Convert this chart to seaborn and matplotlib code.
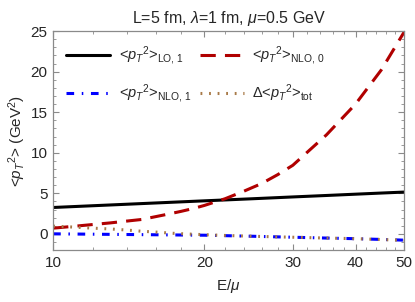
import numpy as np
import pandas as pd
import seaborn as sns
import matplotlib.pyplot as plt
from matplotlib.ticker import FixedLocator, NullFormatter, MultipleLocator

# values
e_lo = [10, 15, 20, 25, 30, 35, 40, 45, 50]
pt_lo1 = [3.25, 3.73, 4.07, 4.33, 4.55, 4.73, 4.89, 5.03, 5.15]

e_nlo0 = [10, 11, 12, 13, 14, 15, 16, 17, 18, 19, 20, 22, 24, 26, 28, 30, 35, 40, 45, 50]
pt_nlo0 = [0.7, 0.93, 1.15, 1.35, 1.57, 1.77, 2.12, 2.45, 2.78, 3.12, 3.5,
           4.33, 5.27, 6.2, 7.3, 8.45, 12.2, 16.0, 20.2, 24.9]

e_nlo1 = [10, 15, 20, 25, 30, 35, 40, 45, 50]
pt_nlo1 = [0.0, -0.1, -0.17, -0.3, -0.42, -0.52, -0.6, -0.69, -0.78]

e_tot = [10, 11, 12, 13, 14, 15, 16, 17.5, 19, 22, 25, 30, 35, 40, 45, 50]
pt_tot = [0.95, 0.83, 0.7, 0.6, 0.47, 0.32, 0.22, 0.05, -0.05, -0.2, -0.3,
          -0.42, -0.52, -0.6, -0.7, -0.8]

xticks = [10, 20, 30, 40, 50]
xminor = [12, 14, 16, 18, 22, 24, 26, 28, 32, 34, 36, 38, 42, 44, 46, 48]

pt2 = r"<$p_T{}^2$>"

sns.set_style("ticks")
plt.rcParams["font.family"] = ["Liberation Sans", "DejaVu Sans"]
plt.rcParams["mathtext.fontset"] = "custom"
plt.rcParams["mathtext.rm"] = "Liberation Sans"
plt.rcParams["mathtext.it"] = "Liberation Sans:italic"
plt.rcParams["mathtext.bf"] = "Liberation Sans:bold"

fig = plt.figure(figsize=(4.15, 3.02), dpi=100)
ax = fig.add_axes([0.128, 0.172, 0.846, 0.725])

sns.lineplot(x=e_lo, y=pt_lo1, ax=ax, color="black", lw=2.2,
             label=pt2 + r"$_{\mathrm{LO,\,1}}$")
sns.lineplot(x=e_nlo0, y=pt_nlo0, ax=ax, color="#b00000", lw=2.2,
             label=pt2 + r"$_{\mathrm{NLO,\,0}}$")
ax.lines[-1].set_dashes([5, 3])
sns.lineplot(x=e_nlo1, y=pt_nlo1, ax=ax, color="#0000ff", lw=2.2,
             label=pt2 + r"$_{\mathrm{NLO,\,1}}$")
ax.lines[-1].set_dashes([2.5, 2.5, 0.5, 2.5])
sns.lineplot(x=e_tot, y=pt_tot, ax=ax, color="#a87a48", lw=2.2,
             label=r"$\Delta$" + pt2 + r"$_{\mathrm{tot}}$")
ax.lines[-1].set_dashes([0.6, 2.2])

ax.set_xscale("log")
ax.set_xlim(10, 50)
ax.set_ylim(-2, 25)
ax.xaxis.set_major_locator(FixedLocator(xticks))
ax.xaxis.set_minor_locator(FixedLocator(xminor))
ax.xaxis.set_minor_formatter(NullFormatter())
ax.set_xticklabels([str(t) for t in xticks])
ax.yaxis.set_major_locator(MultipleLocator(5))
ax.yaxis.set_minor_locator(MultipleLocator(1))

for s in ax.spines.values():
    s.set_visible(True)
    s.set_color("#8a8a8a")
    s.set_linewidth(0.9)
ax.tick_params(which="both", direction="in", top=True, right=True,
               color="#8a8a8a", labelsize=11, pad=4)
ax.tick_params(which="major", length=4, width=0.8)
ax.tick_params(which="minor", length=2, width=0.6)

ax.set_xlabel(r"E/$\mu$", fontsize=11, labelpad=5)
ax.set_ylabel(pt2 + r" (GeV$^2$)", fontsize=11, labelpad=2)
ax.set_title(r"L=5 fm, $\lambda$=1 fm, $\mu$=0.5 GeV", fontsize=11.5, pad=6)

h, l = ax.get_legend_handles_labels()
order = [0, 2, 1, 3]
ax.legend([h[i] for i in order], [l[i] for i in order],
          loc="upper left", ncol=2, frameon=False, fontsize=10.5,
          handlelength=3.0, labelspacing=1.05, columnspacing=0.6,
          handletextpad=0.6, borderaxespad=0.5)

fig.savefig("out.png", dpi=100)
